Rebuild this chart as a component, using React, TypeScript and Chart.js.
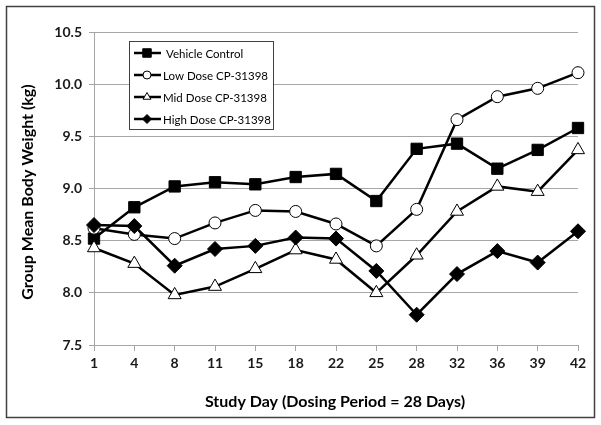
import React, { useEffect, useRef } from "react";
import { Chart, registerables } from "chart.js";

Chart.register(...registerables);

const days = ["1", "4", "8", "11", "15", "18", "22", "25", "28", "32", "36", "39", "42"];
const vehicleControl = [8.52, 8.82, 9.02, 9.06, 9.04, 9.11, 9.14, 8.88, 9.38, 9.43, 9.19, 9.37, 9.58];
const lowDose = [8.62, 8.56, 8.52, 8.67, 8.79, 8.78, 8.66, 8.45, 8.80, 9.66, 9.88, 9.96, 10.11];
const midDose = [8.43, 8.28, 7.98, 8.06, 8.23, 8.41, 8.32, 8.00, 8.36, 8.78, 9.02, 8.97, 9.37];
const highDose = [8.65, 8.64, 8.26, 8.42, 8.45, 8.53, 8.52, 8.21, 7.79, 8.18, 8.40, 8.29, 8.59];
const seriesNames = ["Vehicle Control", "Low Dose CP-31398", "Mid Dose CP-31398", "High Dose CP-31398"];
const yTitle = "Group Mean Body Weight (kg)";
const xTitle = "Study Day (Dosing Period = 28 Days)";

const FONT = "Lato, 'Open Sans', sans-serif";

function drawMarker(ctx: CanvasRenderingContext2D, style: string, r: number, x: number, y: number) {
  ctx.beginPath();
  if (style === "rect") {
    const s = Math.SQRT1_2 * r;
    ctx.rect(x - s, y - s, 2 * s, 2 * s);
  } else if (style === "circle") {
    ctx.arc(x, y, r, 0, Math.PI * 2);
  } else if (style === "triangle") {
    ctx.moveTo(x, y - r);
    ctx.lineTo(x + r * 0.866, y + r * 0.5);
    ctx.lineTo(x - r * 0.866, y + r * 0.5);
    ctx.closePath();
  } else {
    ctx.moveTo(x, y - r);
    ctx.lineTo(x + r, y);
    ctx.lineTo(x, y + r);
    ctx.lineTo(x - r, y);
    ctx.closePath();
  }
  ctx.fill();
  ctx.stroke();
}

const decorPlugin = {
  id: "decor",
  afterDraw(chart: any) {
    const ctx = chart.ctx;
    ctx.save();
    ctx.strokeStyle = "#404040";
    ctx.lineWidth = 1.5;
    ctx.strokeRect(6.5, 6.5, 588, 411);
    ctx.fillStyle = "#000";
    ctx.font = `bold 16px ${FONT}`;
    ctx.textAlign = "center";
    ctx.textBaseline = "middle";
    ctx.fillText(xTitle, 335, 402);
    ctx.save();
    ctx.translate(28, 192);
    ctx.rotate(-Math.PI / 2);
    ctx.fillText(yTitle, 0, 0);
    ctx.restore();
    const lx = 129, ly = 41, lw = 144, lh = 88;
    ctx.fillStyle = "#fff";
    ctx.fillRect(lx, ly, lw, lh);
    ctx.strokeStyle = "#404040";
    ctx.lineWidth = 1;
    ctx.strokeRect(lx + 0.5, ly + 0.5, lw, lh);
    const metas = chart.data.datasets;
    for (let i = 0; i < seriesNames.length; i++) {
      const cy = 53 + i * 22;
      ctx.strokeStyle = "#000";
      ctx.lineWidth = 2.5;
      ctx.beginPath();
      ctx.moveTo(134, cy);
      ctx.lineTo(161, cy);
      ctx.stroke();
      const ds = metas[i];
      ctx.fillStyle = ds.pointBackgroundColor;
      ctx.strokeStyle = "#000";
      ctx.lineWidth = 1;
      const r = ds.pointStyle === "rect" ? 6 : ds.pointStyle === "circle" ? 4 : 4.5;
      drawMarker(ctx, ds.pointStyle, r, 147, cy);
      ctx.fillStyle = "#000";
      ctx.font = `11.5px ${FONT}`;
      ctx.textAlign = "left";
      ctx.textBaseline = "middle";
      ctx.fillText(seriesNames[i], i === 0 ? 166 : 163, cy + 1);
    }
    ctx.restore();
  },
};

export default function App() {
  const ref = useRef<HTMLCanvasElement>(null);
  useEffect(() => {
    if (!ref.current) return;
    const mk = (label: string, data: number[], style: string, fill: string, radius: number, order: number) => ({
      label,
      data,
      borderColor: "#000",
      borderWidth: 2.5,
      pointStyle: style,
      pointRadius: radius,
      pointBackgroundColor: fill,
      pointBorderColor: "#000",
      pointBorderWidth: 1,
      tension: 0,
      order,
    });
    const chart = new Chart(ref.current, {
      type: "line",
      data: {
        labels: days,
        datasets: [
          mk(seriesNames[0], vehicleControl, "rect", "#000", 8, 3),
          mk(seriesNames[1], lowDose, "circle", "#fff", 6, 2),
          mk(seriesNames[2], midDose, "triangle", "#fff", 7.5, 1),
          mk(seriesNames[3], highDose, "rectRot", "#000", 7.5, 0),
        ] as any,
      },
      options: {
        animation: false,
        responsive: false,
        devicePixelRatio: 1,
        layout: { padding: { left: 0, right: 23, top: 32, bottom: 0 } },
        plugins: { legend: { display: false }, tooltip: { enabled: false } },
        scales: {
          x: {
            offset: false,
            grid: { display: true, drawOnChartArea: false, drawTicks: true, tickLength: 6, color: "#a6a6a6" },
            border: { color: "#a6a6a6", width: 1 },
            ticks: { color: "#1a1a1a", font: { family: FONT, size: 14, weight: "bold" }, padding: 4, maxRotation: 0, autoSkip: false },
            afterFit(scale: any) { scale.height = 80; },
          },
          y: {
            min: 7.5,
            max: 10.5,
            grid: { color: "#a6a6a6", tickLength: 5, lineWidth: 1 },
            border: { color: "#a6a6a6", width: 1 },
            ticks: {
              stepSize: 0.5,
              color: "#1a1a1a",
              font: { family: FONT, size: 14, weight: "bold" },
              padding: 7,
              callback: (v: any) => Number(v).toFixed(1),
            },
            afterFit(scale: any) { scale.width = 94; },
          },
        },
      },
      plugins: [decorPlugin],
    } as any);
    return () => chart.destroy();
  }, []);
  return (
    <div style={{ position: "fixed", left: 0, top: 0, width: 601, height: 425, background: "#fff" }}>
      <canvas ref={ref} width={601} height={425} style={{ display: "block", width: 601, height: 425 }} />
    </div>
  );
}
